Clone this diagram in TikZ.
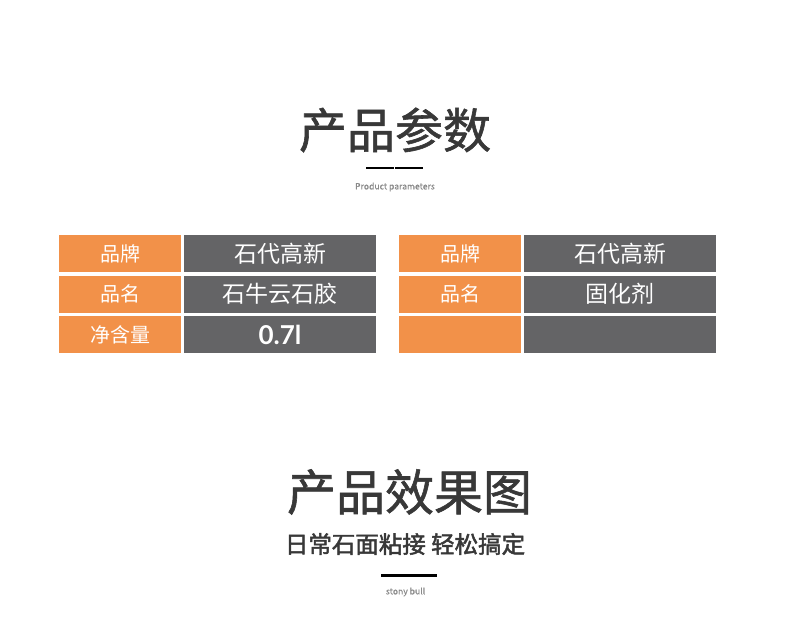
\documentclass[tikz,border=0pt]{standalone}
\usepackage{fontspec}
\setmainfont{Noto Sans CJK SC}
\newfontfamily\cjk{Noto Sans CJK SC}
\newfontfamily\cjkmed[FakeBold=1.2]{Noto Sans CJK SC}
\newfontfamily\cjkheavy[FakeBold=2]{Noto Sans CJK SC}
\newfontfamily\cjknote[FakeBold=0.6]{Noto Sans CJK SC}
\newfontfamily\numfont{Lato}
\definecolor{keyorange}{HTML}{F29149}
\definecolor{valgray}{HTML}{646466}
\definecolor{titlegray}{HTML}{383838}
\definecolor{notegray}{HTML}{8A8A8A}
\newcommand{\fsz}[1]{\fontsize{#1}{#1}\selectfont}

\begin{document}
\begin{tikzpicture}[x=1pt, y=-1pt, line cap=butt,
		keycell/.style={fill=keyorange, text=white, inner sep=0pt, minimum width=122pt, minimum height=37pt, font=\cjk\fsz{20}},
		valcell/.style={fill=valgray, text=white, inner sep=0pt, minimum width=192pt, minimum height=37pt, font=\cjk\fsz{23}},
		heading/.style={text=titlegray, inner sep=0pt, font=\cjkmed\fsz{48}},
		note/.style={text=notegray, inner sep=0pt, font=\cjknote\fsz{8.6}}]
		\useasboundingbox (0,0) rectangle (790,634);
		
		% ===== Top: parameters heading =====
		\node[heading] (paramtitle) at (395,130) {产品参数};
		\draw[line width=2pt] (366,168) -- (393.5,168);
		\draw[line width=2pt] (395,168) -- (423,168);
		\node[note] (paramnote) at (395,187) {Product parameters};
		
		% ===== Left table: glue =====
		\begin{scope}
			\node[keycell] (gluebrandkey) at (120,253.5) {品牌};
			\node[valcell] (gluebrand) at (280,253.5) {石代高新};
			\node[keycell] (gluenamekey) at (120,294) {品名};
			\node[valcell] (gluename) at (280,294) {石牛云石胶};
			\node[keycell] (gluenetkey) at (120,334.5) {净含量};
			\node[valcell, font=\numfont\bfseries\fsz{26}] (gluenet) at (280,334.5) {0.7l};
		\end{scope}
		
		% ===== Right table: hardener =====
		\begin{scope}[shift={(340,0)}]
			\node[keycell] (hardbrandkey) at (120,253.5) {品牌};
			\node[valcell] (hardbrand) at (280,253.5) {石代高新};
			\node[keycell] (hardnamekey) at (120,294) {品名};
			\node[valcell] (hardname) at (280,294) {固化剂};
			\node[keycell] (hardnetkey) at (120,334.5) {};
			\node[valcell] (hardnet) at (280,334.5) {};
		\end{scope}
		
		% ===== Bottom: effect heading =====
		\node[heading, font=\cjkmed\fsz{49}] (effecttitle) at (409.5,492) {产品效果图};
		\node[heading, font=\cjkheavy\fsz{23.5}] (effectsub) at (405,544) {日常石面粘接 轻松搞定};
		\draw[line width=3pt] (381,575) -- (437,575);
		\node[note] (effectnote) at (405.5,592) {stony bull};
		
	\end{tikzpicture}
\end{document}
